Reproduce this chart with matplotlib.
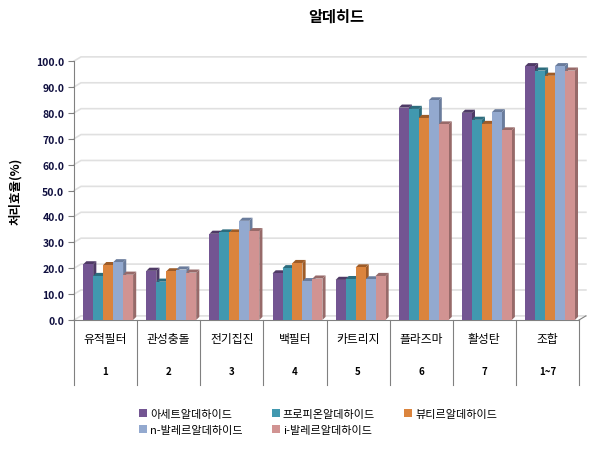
import matplotlib.pyplot as plt
from matplotlib.transforms import blended_transform_factory

plt.rcParams['font.family'] = ['Noto Sans CJK KR', 'DejaVu Sans']

names = ["유적필터", "관성충돌", "전기집진", "백필터", "카트리지", "플라즈마", "활성탄", "조합"]
nums = ["1", "2", "3", "4", "5", "6", "7", "1~7"]
series = ["아세트알데하이드", "프로피온알데하이드", "뷰티르알데하이드",
          "n-발레르알데하이드", "i-발레르알데하이드"]
acet = [21.5, 19.0, 33.3, 18.0, 15.5, 82.0, 80.0, 98.0]
prop = [17.0, 14.8, 33.8, 20.0, 15.8, 81.5, 77.3, 96.3]
buty = [21.2, 18.8, 33.8, 22.0, 20.3, 78.0, 75.7, 94.3]
nval = [22.3, 19.5, 38.3, 15.0, 15.7, 84.8, 80.2, 98.0]
ival = [17.5, 18.3, 34.3, 16.0, 17.0, 75.5, 73.2, 96.3]
data = [acet, prop, buty, nval, ival]
colors = ["#735592", "#4198AF", "#DB843D", "#93A9CF", "#D19392"]
sides = ["#4F3A66", "#2C6C7D", "#9E5C28", "#6A7C9C", "#976A69"]

fig = plt.figure(figsize=(6.12, 4.56), dpi=100)
ax = fig.add_axes([0.121, 0.296, 0.825, 0.568])
ax.set_xlim(0, len(names))
ax.set_ylim(0, 100)

# back wall gridlines
gdx, gdy = 0.11, 1.6
for v in range(0, 101, 10):
    ax.plot([0, gdx, len(names) + gdx], [v, v + gdy, v + gdy], color="#e0e0e0",
            lw=1.2, zorder=0, clip_on=False)

w = 0.158
dx, dy = 0.05, 1.2
handles = []
for i in range(len(names)):
    x0 = i + 0.5 - 2.5 * w + 0.04
    for k in range(len(series)):
        v = data[k][i]
        xl = x0 + k * w
        xr = xl + w
        z = 2 + i * 10 + k
        ax.fill([xr, xr + dx, xr + dx, xr], [0, dy, v + dy, v], color=sides[k], zorder=z, lw=0)
        ax.fill([xl, xl + dx, xr + dx, xr], [v, v + dy, v + dy, v], color=sides[k], zorder=z, lw=0)
        b = ax.bar(xl, v, width=w, align="edge", color=colors[k], zorder=z + 0.5, lw=0)
        if i == 0:
            handles.append(b)

ax.set_yticks(range(0, 101, 10))
ax.set_yticklabels([f"{v:.1f}" for v in range(0, 101, 10)], fontsize=7.5,
                   fontweight="bold", color="#101040")
ax.set_xticks([])
ax.tick_params(axis="y", direction="out", length=4, color="#808080", pad=3)
for s in ["top", "right"]:
    ax.spines[s].set_visible(False)
for s in ["left", "bottom"]:
    ax.spines[s].set_color("#808080")
ax.plot([len(names), len(names) + gdx], [0, gdy], color="#808080", lw=0.8, clip_on=False)

tr = blended_transform_factory(ax.transData, ax.transAxes)
for i in range(len(names) + 1):
    ax.plot([i, i], [0, -0.25], transform=tr, color="#808080", lw=0.8, clip_on=False)
for i, (n, m) in enumerate(zip(names, nums)):
    ax.text(i + 0.5, -0.07, n, transform=tr, ha="center", va="center", fontsize=8.5)
    ax.text(i + 0.5, -0.198, m, transform=tr, ha="center", va="center", fontsize=7,
            fontweight="bold")

ax.set_ylabel("처리효율(%)", fontsize=9, fontweight="bold", labelpad=10)
fig.text(0.55, 0.963, "알데히드", ha="center", va="center", fontsize=11, fontweight="bold")

# row-wise legend order
order = [0, 3, 1, 4, 2]
fig.legend([handles[j] for j in order], [series[j] for j in order],
           loc="center", bbox_to_anchor=(0.52, 0.072), ncol=3, frameon=False,
           fontsize=8, handlelength=0.7, handleheight=0.7, handletextpad=0.3,
           columnspacing=2.6, labelspacing=0.55)

fig.savefig("out.png", dpi=100)
